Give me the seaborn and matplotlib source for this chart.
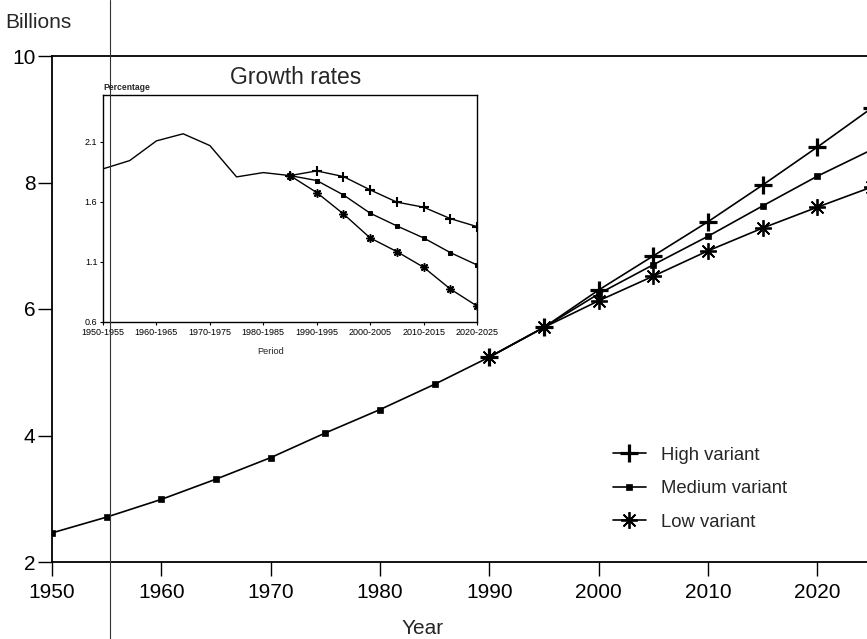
import matplotlib
matplotlib.use("Agg")
import matplotlib.pyplot as plt
from matplotlib.lines import Line2D
import numpy as np
import seaborn as sns

# --- World population (billions), 1950-2025 ---
years_medium = [1950, 1955, 1960, 1965, 1970, 1975, 1980, 1985, 1990, 1995,
                2000, 2005, 2010, 2015, 2020, 2025]
pop_medium = [2.46, 2.71, 2.99, 3.31, 3.65, 4.04, 4.41, 4.81, 5.24, 5.71,
              6.24, 6.70, 7.15, 7.63, 8.10, 8.52]

years_variant = [1990, 1995, 2000, 2005, 2010, 2015, 2020, 2025]
pop_high = [5.24, 5.71, 6.30, 6.84, 7.38, 7.96, 8.56, 9.18]
pop_low = [5.24, 5.71, 6.13, 6.52, 6.92, 7.28, 7.61, 7.93]

# --- Growth rates (percentage per year), by five-year period ---
periods = ["1950-1955", "1955-1960", "1960-1965", "1965-1970", "1970-1975",
           "1975-1980", "1980-1985", "1985-1990", "1990-1995", "1995-2000",
           "2000-2005", "2005-2010", "2010-2015", "2015-2020", "2020-2025"]
rate_hist = [1.875, 1.944, 2.108, 2.167, 2.069, 1.808, 1.844, 1.819]
rate_high = [1.819, 1.858, 1.811, 1.700, 1.598, 1.556, 1.461, 1.394]
rate_medium = [1.819, 1.778, 1.658, 1.506, 1.400, 1.300, 1.178, 1.075]
rate_low = [1.819, 1.678, 1.500, 1.300, 1.186, 1.056, 0.875, 0.733]

main_yticks = [2, 4, 6, 8, 10]
main_xticks = [1950, 1960, 1970, 1980, 1990, 2000, 2010, 2020]
inset_yticks = [0.6, 1.1, 1.6, 2.1]

sns.set_style("ticks")
plt.rcParams["font.family"] = ["Liberation Sans", "DejaVu Sans"]

fig = plt.figure(figsize=(8.67, 6.39), dpi=100)
W, H = 867.0, 639.0

# Main axes: the 2025 edge runs just past the right border
x0, x1 = 52 / W, 872 / W
y0, y1 = 1 - 562 / H, 1 - 56 / H
ax = fig.add_axes([x0, y0, x1 - x0, y1 - y0])

asterisk = (8, 2, 0)
line_kw = dict(color="black", linewidth=1.2)

sns.lineplot(x=years_variant, y=pop_high, ax=ax, marker="+", markersize=13,
             markeredgewidth=2.3, markeredgecolor="black",
             label="High variant", **line_kw)
sns.lineplot(x=years_medium, y=pop_medium, ax=ax, marker="s", markersize=4.5,
             markeredgewidth=0.5, markerfacecolor="black", markeredgecolor="black",
             label="Medium variant", **line_kw)
sns.lineplot(x=years_variant, y=pop_low, ax=ax, marker=asterisk, markersize=12,
             markeredgewidth=1.3, markeredgecolor="black",
             label="Low variant", **line_kw)

ax.set_xlim(1950, 2025)
ax.set_ylim(2, 10)
ax.set_xticks(main_xticks)
ax.set_yticks(main_yticks)
ax.tick_params(axis="y", direction="out", length=10, width=1.0,
               labelsize=15, colors="black", pad=2)
ax.tick_params(axis="x", direction="out", length=10, width=1.0,
               labelsize=15, colors="black", pad=5)
for side in ["left", "bottom", "top", "right"]:
    ax.spines[side].set_visible(True)
    ax.spines[side].set_linewidth(1.3)
    ax.spines[side].set_color("black")
ax.set_xlabel("")
ax.set_ylabel("")
fig.text(423 / W, 1 - 628 / H, "Year", fontsize=15, ha="center", va="center")
fig.text(5 / W, 1 - 22 / H, "Billions", fontsize=15, ha="left", va="center")

leg = ax.legend(loc="upper left", bbox_to_anchor=(596 / W, 1 - 430 / H),
                bbox_transform=fig.transFigure, frameon=False, fontsize=13.3,
                handlelength=1.8, handletextpad=0.8, labelspacing=0.9)

# Inset: growth rates
ix0, ix1 = 103 / W, 477 / W
iy0, iy1 = 1 - 322 / H, 1 - 95 / H
axi = fig.add_axes([ix0, iy0, ix1 - ix0, iy1 - iy0])
idx = np.arange(len(periods))
thin = dict(color="black", linewidth=1.0)
sns.lineplot(x=idx[:8], y=rate_hist, ax=axi, **thin)
sns.lineplot(x=idx[7:], y=rate_high, ax=axi, marker="+", markersize=7,
             markeredgewidth=1.5, markeredgecolor="black", **thin)
sns.lineplot(x=idx[7:], y=rate_medium, ax=axi, marker="s", markersize=3,
             markerfacecolor="black", markeredgecolor="black", **thin)
sns.lineplot(x=idx[7:], y=rate_low, ax=axi, marker=asterisk, markersize=6,
             markeredgewidth=1.1, markeredgecolor="black", **thin)
axi.set_xlim(0, len(periods) - 1)
axi.set_ylim(0.6, 2.49)
axi.set_xticks(idx[::2])
axi.set_xticklabels(periods[::2])
axi.set_yticks(inset_yticks)
axi.set_yticklabels([f"{v:.1f}" for v in inset_yticks])
axi.tick_params(axis="both", direction="out", length=2.5, width=0.8,
                labelsize=6.5, colors="black", pad=1.5)
for side in ["left", "bottom", "top", "right"]:
    axi.spines[side].set_visible(True)
    axi.spines[side].set_linewidth(1.0)
    axi.spines[side].set_color("black")
axi.set_xlabel("")
axi.set_ylabel("")
fig.text(271 / W, 1 - 352 / H, "Period", fontsize=6.7, ha="center", va="center")
fig.text(103 / W, 1 - 87 / H, "Percentage", fontsize=6.2, fontweight="bold",
         ha="left", va="center")
fig.text(296 / W, 1 - 78 / H, "Growth rates", fontsize=16.5, ha="center", va="center")

# Fold rule running down the sheet near 1955
fig.add_artist(Line2D([110 / W, 110 / W], [0, 1], transform=fig.transFigure,
                      color="#333333", linewidth=0.8))

fig.savefig("out.png", dpi=100)
